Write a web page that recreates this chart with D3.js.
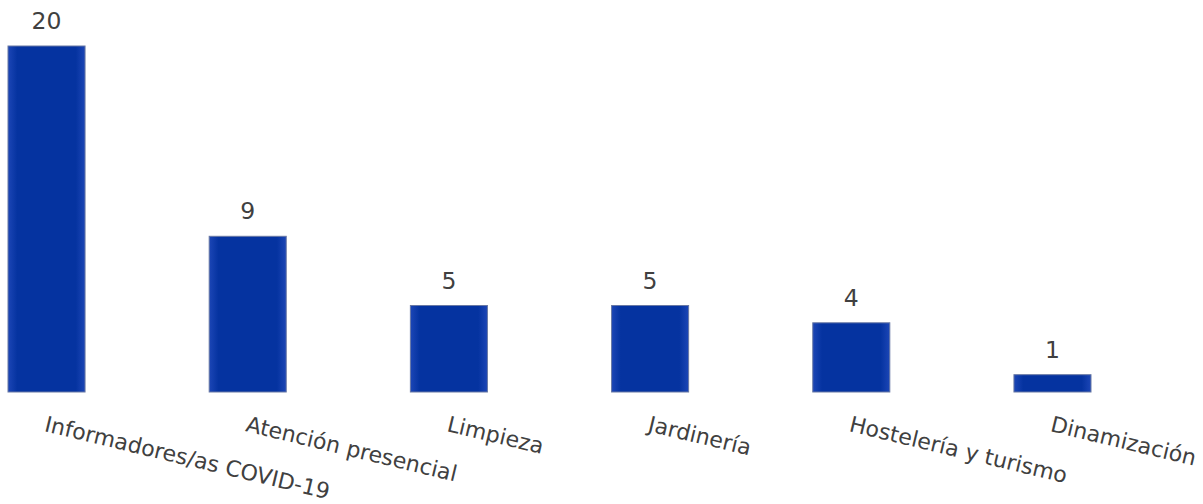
<!DOCTYPE html>
<html><head><meta charset="utf-8">
<script src="https://cdn.jsdelivr.net/npm/d3@7"></script>
<style>html,body{margin:0;padding:0;background:#fff;}svg{display:block;}</style>
</head><body>
<script>
const categories = ["Informadores/as COVID-19","Atención presencial","Limpieza","Jardinería","Hostelería y turismo","Dinamización"];
const values = [20, 9, 5, 5, 4, 1];

const W = 1203, H = 504;
const svg = d3.select("body").append("svg").attr("width", W).attr("height", H);
const defs = svg.append("defs");
const g1 = defs.append("linearGradient").attr("id","gx").attr("x1",0).attr("x2",1).attr("y1",0).attr("y2",0);
g1.append("stop").attr("offset","0%").attr("stop-color","#1c46b6");
g1.append("stop").attr("offset","12%").attr("stop-color","#0533a0");
g1.append("stop").attr("offset","88%").attr("stop-color","#0533a0");
g1.append("stop").attr("offset","100%").attr("stop-color","#1c46b6");

const x = d3.scaleBand().domain(categories).range([8, 1091]).paddingInner(0.617).paddingOuter(0).align(0);
const y = d3.scaleLinear().domain([0, 20]).range([392, 46]);

const font = "'DejaVu Sans', sans-serif";

svg.selectAll("rect.bar").data(categories).join("rect").attr("class","bar")
  .attr("x", d => x(d)).attr("width", x.bandwidth())
  .attr("y", (d,i) => y(values[i])).attr("height", (d,i) => y(0) - y(values[i]))
  .attr("fill", "url(#gx)").attr("stroke", "#6878a4").attr("stroke-width", 1);

svg.selectAll("text.val").data(categories).join("text").attr("class","val")
  .attr("x", d => x(d) + x.bandwidth()/2)
  .attr("y", (d,i) => y(values[i]) - 17)
  .attr("text-anchor","middle").attr("font-family", font).attr("font-size", 23.5)
  .attr("fill", "#404040").text((d,i) => values[i]);

svg.selectAll("text.cat").data(categories).join("text").attr("class","cat")
  .attr("transform", d => `translate(${x(d) + x.bandwidth()/2 - 3},431) rotate(13.5)`)
  .attr("font-family", font).attr("font-size", 22)
  .attr("fill", "#404040").text(d => d);
</script>
</body></html>
